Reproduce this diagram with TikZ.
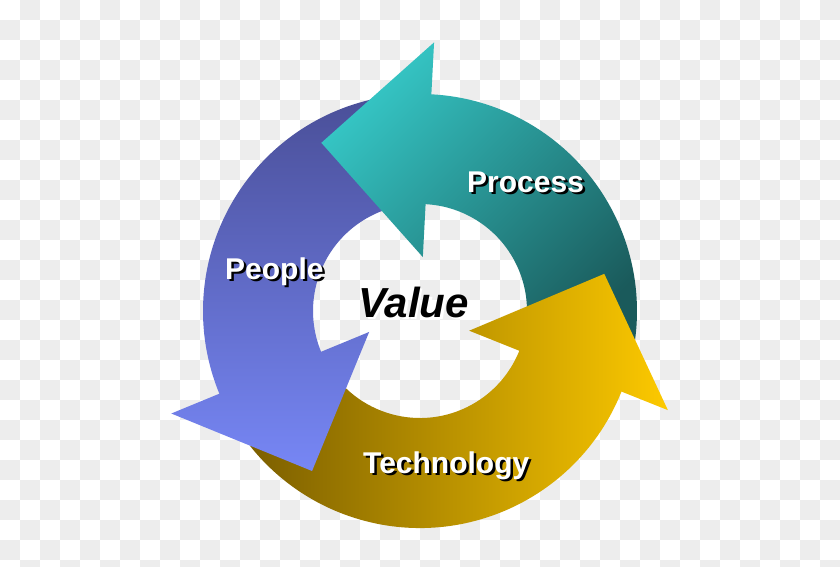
\documentclass[tikz,border=0pt]{standalone}
\usepackage{fontspec}
\setmainfont{Liberation Sans}

\definecolor{tealL}{HTML}{36C9C8}
\definecolor{tealD}{HTML}{1A5A5B}
\definecolor{blueD}{HTML}{4A4F98}
\definecolor{blueL}{HTML}{7787F6}
\definecolor{goldD}{HTML}{7C5F00}
\definecolor{goldL}{HTML}{FFCB00}
\definecolor{checker}{HTML}{EDEDED}

% text with an offset copy behind it
\newcommand{\shadowed}[2]{\makebox[0pt][l]{\hspace{2.5pt}\raisebox{-2.5pt}{\textcolor{#2}{#1}}}#1}

\newcommand{\tealshade}{\shade[top color=tealL, bottom color=tealD, shading angle=45] (-110,-45) rectangle (235,275);}
\newcommand{\blueshade}{\shade[top color=blueD, bottom color=blueL] (-260,-162) rectangle (25,214);}
\newcommand{\goldshade}{\shade[left color=goldD, right color=goldL] (-170,-222) rectangle (255,45);}

\tikzset{
  ringlabel/.style={inner sep=0pt, anchor=base west, text=white, font=\fontsize{30}{36}\selectfont\bfseries},
  centerlabel/.style={inner sep=0pt, anchor=base west, text=black, font=\fontsize{42}{50}\selectfont\bfseries\itshape}
}

\def\rin{107}
\def\rout{217}

\begin{document}
\begin{tikzpicture}[x=1pt, y=1pt]
    \useasboundingbox (-420,-255) rectangle (420,311);
    
    % background squares
    \begin{scope}
        \clip (-420,-255) rectangle (420,311);
        \fill[white] (-420,-255) rectangle (420,311);
        \foreach \i in {0,...,41}{
            \foreach \j in {0,...,28}{
                \pgfmathtruncatemacro\k{mod(\i+\j,2)}
                \ifnum\k=1
                    \fill[checker] (-420+20*\i, 311-20*\j) rectangle ++(20,-20);
                \fi
            }
        }
    \end{scope}
    
    % bodies
    \begin{scope}
        \clip (96:\rin) arc[start angle=96, end angle=204, radius=\rin] -- (204:\rout) arc[start angle=204, end angle=96, radius=\rout] -- cycle;
        \blueshade
    \end{scope}
    \begin{scope}
        \clip (-16:\rin) arc[start angle=-16, end angle=88.5, radius=\rin] -- (88.5:\rout) arc[start angle=88.5, end angle=-16, radius=\rout] -- cycle;
        \tealshade
    \end{scope}
    \begin{scope}
        \clip (212:\rin) arc[start angle=212, end angle=339.5, radius=\rin] -- (339.5:\rout) arc[start angle=339.5, end angle=212, radius=\rout] -- cycle;
        \goldshade
    \end{scope}
    
    % heads
    \begin{scope}
        \clip (87:54) -- (120.4:195) -- (87:269) -- cycle;
        \tealshade
    \end{scope}
    \begin{scope}
        \clip (-21.8:53) -- (11.4:188) -- (-21.8:267) -- cycle;
        \goldshade
    \end{scope}
    \begin{scope}
        \clip (202.4:55) -- (236:193) -- (202.4:269) -- cycle;
        \blueshade
    \end{scope}
    
    \node[ringlabel] (process) at (47,119) {\shadowed{Process}{black}};
    \node[ringlabel] (people) at (-195,32) {\shadowed{People}{black}};
    \node[ringlabel] (technology) at (-57,-162) {\shadowed{Technology}{black}};
    \node[centerlabel] (value) at (-62,-6) {\shadowed{Value}{white}};
\end{tikzpicture}
\end{document}
